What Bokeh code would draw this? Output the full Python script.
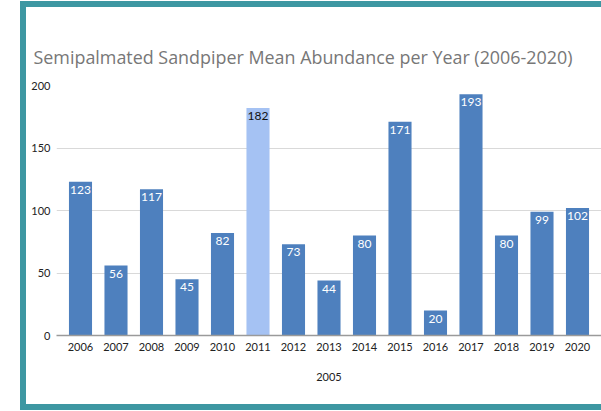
from bokeh.plotting import figure
from bokeh.layouts import column
from bokeh.models import Range1d, FixedTicker, ColumnDataSource
from bokeh.embed import file_html
from bokeh.resources import INLINE
from bokeh.core.properties import value

# Mean abundance of Semipalmated Sandpipers per survey year
years = [2006, 2007, 2008, 2009, 2010, 2011, 2012, 2013, 2014, 2015, 2016, 2017, 2018, 2019, 2020]
abundance = [123, 56, 117, 45, 82, 182, 73, 44, 80, 171, 20, 193, 80, 99, 102]
highlight_year = 2011
y_ticks = [0, 50, 100, 150, 200]

BAR = "#4e80be"
BAR_HI = "#a5c2f3"
TEAL = "#3d97a2"

source = ColumnDataSource(dict(
    year=years,
    value=abundance,
    label=[str(v) for v in abundance],
    fill=[BAR_HI if y == highlight_year else BAR for y in years],
    text_color=["#111111" if y == highlight_year else "white" for y in years],
))

p = figure(
    width=575, height=397,
    x_range=Range1d(2005.324, 2020.676),
    y_range=Range1d(0, 200),
    output_backend="svg", toolbar_location=None,
    min_border_left=30, min_border_right=0,
    min_border_top=78, min_border_bottom=69,
    background_fill_color="white", border_fill_color="white",
    outline_line_color=None,
    title="Semipalmated Sandpiper Mean Abundance per Year (2006-2020)",
)

p.title.text_font = "Open Sans"
p.title.text_font_size = "17.9px"
p.title.text_font_style = "normal"
p.title.text_color = "#777777"
p.title.align = "left"
p.title.offset = -23
p.title.standoff = 33

p.vbar(x="year", top="value", width=0.65, source=source,
       fill_color="fill", line_color=None)

p.text(x="year", y="value", text="label", source=source,
       text_align="center", text_baseline="top", y_offset=4,
       text_font=value("Lato"), text_font_size="12px",
       text_color="text_color")

# y axis: labels only, light grid
p.yaxis.ticker = FixedTicker(ticks=y_ticks)
p.yaxis.axis_line_color = None
p.yaxis.major_tick_line_color = None
p.yaxis.minor_tick_line_color = None
p.yaxis.major_tick_out = 0
p.yaxis.major_tick_in = 0
p.yaxis.minor_tick_out = 0
p.yaxis.major_label_standoff = 6
p.yaxis.major_label_text_font = "Lato"
p.yaxis.major_label_text_font_size = "11px"
p.yaxis.major_label_text_color = "#222222"
p.ygrid.ticker = FixedTicker(ticks=y_ticks[1:])
p.ygrid.grid_line_color = "#d9d9d9"
p.ygrid.grid_line_width = 1

# x axis: one label per year
p.xaxis.ticker = FixedTicker(ticks=years)
p.xaxis.axis_line_color = "#9a9a9a"
p.xaxis.axis_line_width = 1.5
p.xaxis.major_tick_line_color = None
p.xaxis.minor_tick_line_color = None
p.xaxis.major_tick_out = 0
p.xaxis.major_tick_in = 0
p.xaxis.minor_tick_out = 0
p.xaxis.major_label_standoff = 7
p.xaxis.major_label_text_font = "Lato"
p.xaxis.major_label_text_font_size = "11px"
p.xaxis.major_label_text_color = "#222222"
p.xaxis.axis_label = "2005"
p.xaxis.axis_label_text_font = "Lato"
p.xaxis.axis_label_text_font_size = "11px"
p.xaxis.axis_label_text_font_style = "normal"
p.xaxis.axis_label_text_color = "#222222"
p.xaxis.axis_label_standoff = 19
p.xgrid.grid_line_color = None

# teal card frame around the chart (left, top and bottom edges)
card = column(
    p,
    margin=(1, 0, 0, 20),
    styles={
        "border-left": f"6px solid {TEAL}",
        "border-top": f"6px solid {TEAL}",
        "border-bottom": f"6px solid {TEAL}",
        "background-color": "white",
    },
)

open("out.html", "w").write(file_html(card, INLINE))
